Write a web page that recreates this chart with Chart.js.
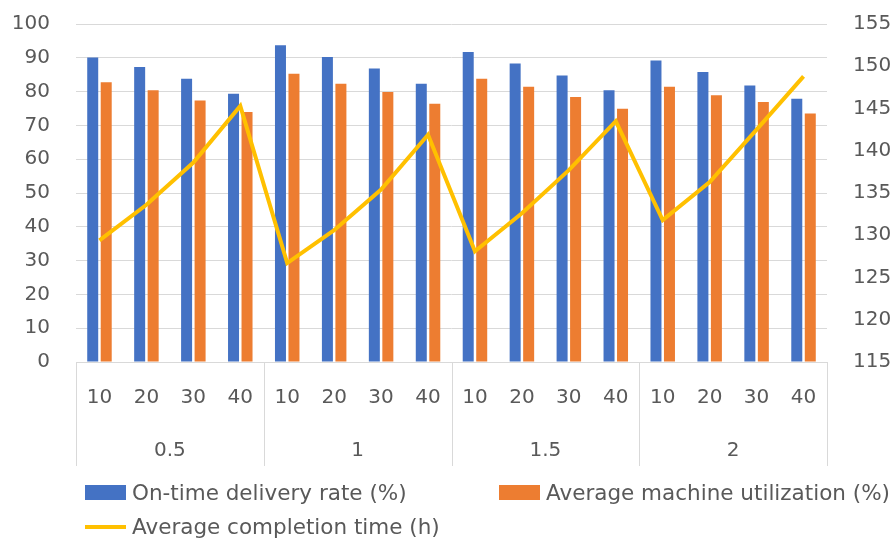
<!DOCTYPE html>
<html>
<head>
<meta charset="utf-8">
<script src="https://cdn.jsdelivr.net/npm/chart.js@4.4.1/dist/chart.umd.min.js"></script>
<style>
  html, body { margin: 0; padding: 0; background: #fff; }
  #wrap { position: relative; width: 894px; height: 541px; }
  #c { position: absolute; left: 0; top: 0; }
  .lg { position: absolute; font-family: "DejaVu Sans", sans-serif; font-size: 21.5px; color: #595959; white-space: nowrap; line-height: 26px; }
  .sw { position: absolute; }
</style>
</head>
<body>
<div id="wrap">
  <canvas id="c" width="894" height="541"></canvas>
  <div id="legend"></div>
</div>
<script>
// ---- data ----
const subCategories = ["10","20","30","40","10","20","30","40","10","20","30","40","10","20","30","40"];
const groupLabels = ["0.5","1","1.5","2"];
const onTimeDelivery = [90.1, 87.3, 83.8, 79.4, 93.7, 90.2, 86.8, 82.3, 91.7, 88.3, 84.8, 80.4, 89.2, 85.8, 81.8, 77.9];
const machineUtilization = [82.8, 80.4, 77.4, 74.0, 85.3, 82.3, 79.9, 76.4, 83.8, 81.4, 78.4, 74.9, 81.4, 78.9, 76.9, 73.5];
const completionTime = [129.4, 133.6, 138.6, 145.3, 126.7, 130.6, 135.4, 141.9, 128.1, 132.6, 137.7, 143.5, 131.8, 136.3, 142.5, 148.8];
const seriesNames = ["On-time delivery rate (%)", "Average machine utilization (%)", "Average completion time (h)"];

const textColor = "#595959";
const gridColor = "#D9D9D9";
const fontFamily = "DejaVu Sans";

const dividerPlugin = {
  id: "dividers",
  afterDraw(chart) {
    const xs = chart.scales.x;
    const gs = chart.scales.x2;
    const ctx = chart.ctx;
    ctx.save();
    ctx.strokeStyle = gridColor;
    ctx.lineWidth = 1;
    const n = groupLabels.length;
    const step = (xs.right - xs.left) / n;
    for (let i = 0; i <= n; i++) {
      const x = Math.round(xs.left + i * step) + 0.5;
      ctx.beginPath();
      ctx.moveTo(x, chart.chartArea.bottom);
      ctx.lineTo(x, gs.top + 57);
      ctx.stroke();
    }
    ctx.restore();
  }
};

function fixH(h) {
  return function (scale) { scale.height = h; scale.paddingLeft = 0; scale.paddingRight = 0; };
}
function fixW(w) {
  return function (scale) { scale.width = w; scale.paddingTop = 0; scale.paddingBottom = 0; };
}

const chart = new Chart(document.getElementById("c"), {
  type: "bar",
  data: {
    labels: subCategories,
    datasets: [
      {
        type: "line",
        label: seriesNames[2],
        data: completionTime,
        yAxisID: "y1",
        borderColor: "#FFC000",
        backgroundColor: "#FFC000",
        borderWidth: 4,
        pointRadius: 0,
        tension: 0,
        order: 0
      },
      {
        label: seriesNames[0],
        data: onTimeDelivery,
        yAxisID: "y",
        backgroundColor: "#4472C4",
        categoryPercentage: 0.575,
        barPercentage: 0.815,
        order: 1
      },
      {
        label: seriesNames[1],
        data: machineUtilization,
        yAxisID: "y",
        backgroundColor: "#ED7D31",
        categoryPercentage: 0.575,
        barPercentage: 0.815,
        order: 1
      }
    ]
  },
  options: {
    responsive: false,
    animation: false,
    layout: { padding: { left: 0, right: 0, top: 24, bottom: 72 } },
    plugins: { legend: { display: false }, tooltip: { enabled: false } },
    scales: {
      x: {
        type: "category",
        position: "bottom",
        grid: { display: false, drawTicks: false },
        border: { display: true, color: gridColor },
        ticks: { color: textColor, font: { family: fontFamily, size: 20 }, padding: 24, maxRotation: 0, autoSkip: false },
        afterFit: fixH(47)
      },
      x2: {
        type: "category",
        position: "bottom",
        labels: groupLabels,
        offset: true,
        grid: { display: false, drawTicks: false },
        border: { display: false },
        ticks: { color: textColor, font: { family: fontFamily, size: 20 }, padding: 30, maxRotation: 0 },
        afterFit: fixH(60)
      },
      y: {
        position: "left",
        min: 0, max: 100,
        ticks: { stepSize: 10, color: textColor, font: { family: fontFamily, size: 20 }, padding: 26 },
        grid: { color: gridColor, drawTicks: false },
        border: { display: false },
        afterFit: fixW(76)
      },
      y1: {
        position: "right",
        min: 115, max: 155,
        ticks: { stepSize: 5, color: textColor, font: { family: fontFamily, size: 20 }, padding: 26 },
        grid: { display: false, drawTicks: false },
        border: { display: false },
        afterFit: fixW(67)
      }
    }
  },
  plugins: [dividerPlugin]
});

// ---- HTML legend built from the chart's datasets ----
(function buildLegend() {
  const lg = document.getElementById("legend");
  const ds = chart.data.datasets;
  const items = [
    { d: ds[1], x: 85, y: 493, kind: "box" },
    { d: ds[2], x: 499, y: 493, kind: "box" },
    { d: ds[0], x: 85, y: 527, kind: "line" }
  ];
  items.forEach(it => {
    const sw = document.createElement("div");
    sw.className = "sw";
    if (it.kind === "box") {
      sw.style.cssText = `left:${it.x}px;top:${it.y - 8}px;width:41px;height:15px;background:${it.d.backgroundColor};`;
    } else {
      sw.style.cssText = `left:${it.x}px;top:${it.y - 2}px;width:41px;height:4px;background:${it.d.borderColor};`;
    }
    lg.appendChild(sw);
    const t = document.createElement("div");
    t.className = "lg";
    t.style.left = (it.x + 47) + "px";
    t.style.top = (it.y - 13) + "px";
    t.textContent = it.d.label;
    lg.appendChild(t);
  });
})();
</script>
</body>
</html>
